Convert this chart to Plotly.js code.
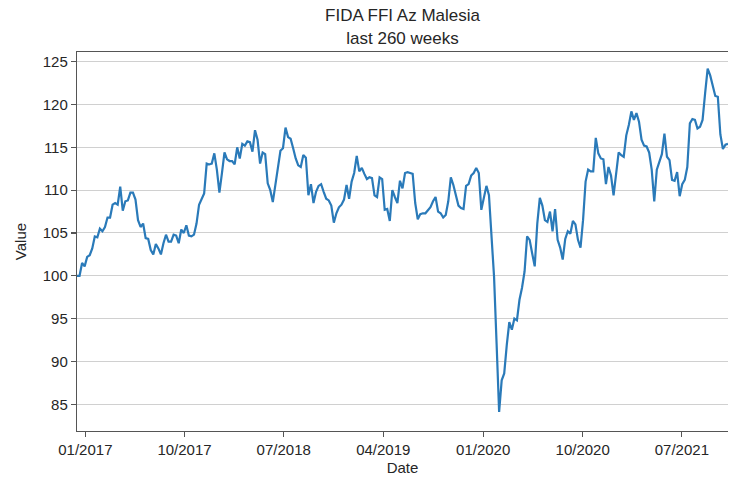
<!DOCTYPE html>
<html>
<head>
<meta charset="utf-8">
<script src="https://cdn.plot.ly/plotly-3.0.1.min.js"></script>
<style>html,body{margin:0;padding:0;background:#fff;}#chart{width:729px;height:477px;}</style>
</head>
<body>
<div id="chart"></div>
<script>
// Weekly index values (first week = 100)
const startDate = '2016-12-09';
const values = [
100.0,100.0,101.5,101.1,102.2,102.4,103.2,104.6,104.5,105.5,
105.2,105.7,106.8,106.8,108.3,108.5,108.3,110.4,107.6,108.7,
108.8,109.7,109.7,108.9,106.5,105.7,106.1,104.4,104.3,103.0,
102.5,103.7,103.2,102.5,103.8,104.8,104.0,104.0,104.8,104.7,
103.8,105.4,105.0,105.9,104.7,104.6,104.8,106.1,108.3,108.9,
109.6,113.1,113.0,113.1,114.3,112.4,109.7,112.0,114.4,113.6,
113.4,113.4,113.0,115.0,113.7,115.4,115.2,115.7,115.6,114.5,
117.0,115.9,113.1,114.4,114.2,110.8,110.0,108.6,110.8,112.6,
114.6,114.9,117.3,116.2,116.0,114.9,113.7,112.9,112.7,114.1,
113.8,109.4,110.7,108.5,109.8,110.5,110.7,109.8,109.0,108.8,
108.2,106.2,107.3,108.0,108.3,108.9,110.6,109.0,111.0,112.0,
114.0,112.2,112.6,111.9,111.3,111.5,111.4,109.4,109.2,111.5,
111.3,107.7,107.8,106.4,110.0,109.2,108.5,111.1,110.2,112.0,
112.1,112.0,111.9,108.5,106.6,107.2,107.3,107.3,107.7,108.0,
108.7,109.2,107.5,107.3,106.8,107.1,108.7,111.5,110.6,109.4,
108.2,107.9,107.8,110.5,110.7,111.7,112.0,112.6,112.0,107.7,
109.2,110.5,109.4,104.2,99.9,92.1,84.1,87.8,88.6,91.9,
94.6,93.7,95.0,94.8,97.2,98.6,100.5,104.6,104.2,102.6,
101.1,106.1,109.1,108.2,106.5,106.3,107.5,105.2,107.8,104.2,
103.3,101.9,104.3,105.2,104.9,106.4,106.0,104.2,103.3,106.5,
111.0,112.4,112.2,112.2,116.1,114.3,113.7,113.6,110.7,112.7,
111.7,109.4,111.9,114.4,114.1,113.9,116.4,117.6,119.2,118.2,
119.0,118.0,115.9,115.2,115.1,114.4,112.4,108.7,112.4,113.3,
114.2,116.6,113.9,113.5,111.2,111.1,112.1,109.3,110.7,111.2,
112.7,117.8,118.3,118.2,117.2,117.4,118.2,121.3,124.2,123.4,
122.3,121.0,120.9,116.5,114.8,115.3,115.4
];
const tickDates = ['2017-01-01','2017-10-01','2018-07-01','2019-04-01','2020-01-01','2020-10-01','2021-07-01'];
const tickLabels = ['01/2017','10/2017','07/2018','04/2019','01/2020','10/2020','07/2021'];
const yTicks = [85,90,95,100,105,110,115,120,125];

// weekly dates
const dates = [];
const d0 = new Date(startDate + 'T00:00:00Z');
for (let i = 0; i < values.length; i++) {
  const d = new Date(d0.getTime() + i * 7 * 86400000);
  dates.push(d.toISOString().slice(0, 10));
}

const font = 'Liberation Sans, Arial, sans-serif';
const trace = {
  x: dates, y: values, type: 'scatter', mode: 'lines',
  line: {color: '#2a7ab9', width: 2.2}, hoverinfo: 'x+y'
};
const layout = {
  width: 729, height: 477,
  margin: {l: 77, r: 1, t: 52, b: 46},
  paper_bgcolor: '#ffffff', plot_bgcolor: '#ffffff',
  showlegend: false,
  title: {
    text: 'FIDA FFI Az Malesia<br>last 260 weeks',
    font: {family: font, size: 17, color: '#262626'},
    xref: 'paper', x: 0.5, xanchor: 'center',
    yref: 'container', y: 0.955, yanchor: 'top'
  },
  xaxis: {
    type: 'date',
    range: [dates[0], dates[dates.length - 1]],
    tickmode: 'array', tickvals: tickDates, ticktext: tickLabels,
    showgrid: false, zeroline: false,
    showline: true, linecolor: '#555555', linewidth: 1.2, mirror: true,
    ticks: 'outside', ticklen: 5, tickwidth: 1.2, tickcolor: '#555555',
    tickfont: {family: font, size: 15, color: '#262626'},
    title: {text: 'Date', font: {family: font, size: 15, color: '#262626'}, standoff: 5}
  },
  yaxis: {
    range: [81.88, 126.13],
    tickmode: 'array', tickvals: yTicks,
    showgrid: true, gridcolor: '#d0d0d0', gridwidth: 1,
    zeroline: false,
    showline: true, linecolor: '#555555', linewidth: 1.2,
    ticks: 'outside', ticklen: 5, tickwidth: 1.2, tickcolor: '#555555',
    tickfont: {family: font, size: 15, color: '#262626'},
    title: {text: 'Value', font: {family: font, size: 15, color: '#262626'}, standoff: 12}
  }
};
Plotly.newPlot('chart', [trace], layout, {displayModeBar: false, staticPlot: true});
</script>
</body>
</html>
